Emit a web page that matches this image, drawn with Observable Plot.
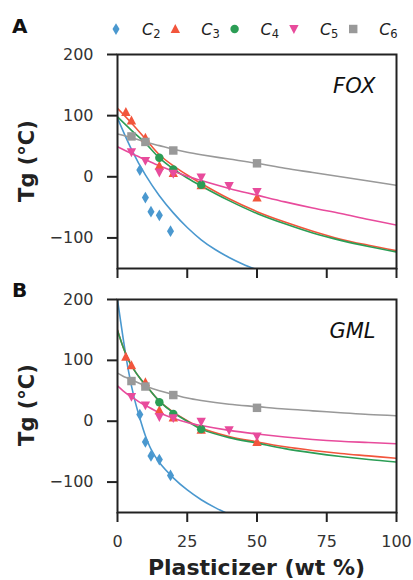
<!DOCTYPE html>
<html>
<head>
<meta charset="utf-8">
<script src="https://cdn.jsdelivr.net/npm/d3@7"></script>
<script src="https://cdn.jsdelivr.net/npm/@observablehq/plot@0.6"></script>
<style>
  html, body { margin: 0; padding: 0; background: #fff; }
  #root { position: relative; width: 413px; height: 580px; font-family: "DejaVu Sans", sans-serif; overflow: hidden; }
  #root > .panel { position: absolute; left: 0; }
  #overlay { position: absolute; left: 0; top: 0; pointer-events: none; }
</style>
</head>
<body>
<div id="root"></div>
<script>
// ---------- data ----------
const seriesNames = ["C2", "C3", "C4", "C5", "C6"];
const seriesColors = ["#4a98cf", "#f2553c", "#2b9d55", "#e84b9c", "#999999"];
const modelNames = ["FOX", "GML"];

// experimental points (wt %, Tg °C)
const c2X = [8, 10, 12, 15, 19];
const c2Tg = [11, -34, -57, -63, -89];
const c3X = [3, 5, 10, 15, 20, 30, 50];
const c3Tg = [106, 92, 64, 18, 6, -14, -34];
const c4X = [15, 20, 30];
const c4Tg = [31, 12, -13];
const c5X = [5, 10, 15, 20, 30, 40, 50];
const c5Tg = [40, 26, 7, 5, -1, -15, -25];
const c6X = [5, 10, 20, 50];
const c6Tg = [66, 57, 43, 22];

// FOX fitted curves
const foxX = [0, 5, 10, 15, 20, 25, 30, 40, 50, 60, 70, 80, 90, 100];
const foxC2X = [0, 5, 10, 15, 20, 25, 30, 35, 40, 45, 50];
const foxC2 = [96, 45, 3, -31, -59, -83, -103, -119, -132, -143, -152];
const foxC3 = [112, 88, 62, 36, 18, 3, -11, -36, -57, -74, -89, -102, -112, -121];
const foxC4 = [98, 76, 55, 31, 13, -2, -15, -39, -60, -77, -92, -104, -114, -123];
const foxC5 = [49, 38, 28, 18, 9, 1, -6, -19, -30, -41, -51, -60, -70, -79];
const foxC6 = [70, 64, 57, 51, 45, 40, 36, 29, 22, 14, 7, 0, -7, -14];

// GML fitted curves
const gmlX = [0, 2, 4, 6, 8, 10, 15, 20, 25, 30, 40, 50, 60, 70, 80, 90, 100];
const gmlC2X = [0, 2, 4, 6, 8, 10, 12, 15, 20, 25, 30, 35, 40];
const gmlC2 = [200, 137, 81, 38, 5, -24, -46, -68, -93, -113, -129, -142, -153];
const gmlC3 = [150, 122, 100, 84, 71, 60, 33, 15, 1, -11, -25, -34, -42, -48, -53, -57, -61];
const gmlC4 = [149, 122, 100, 84, 71, 60, 33, 14, 0, -13, -27, -36, -45, -52, -58, -63, -67];
const gmlC5 = [58, 50, 43, 37, 31, 26, 14, 5, -2, -7, -15, -21, -26, -30, -33, -35, -37];
const gmlC6 = [79, 74, 70, 66, 62, 58, 50, 44, 38, 34, 28, 24, 20, 17, 14, 11, 9];

const xTicks = [0, 25, 50, 75, 100];
const yTicks = [-100, 0, 100, 200];

// ---------- helpers ----------
const zip = (xs, ys) => xs.map((x, i) => ({x, y: ys[i]}));
const rOf = size => Math.sqrt(size / Math.PI);
const symbols = [
  {draw(c, s) { const r = rOf(s); c.moveTo(0, -1.25 * r); c.lineTo(0.75 * r, 0); c.lineTo(0, 1.25 * r); c.lineTo(-0.75 * r, 0); c.closePath(); }},
  {draw(c, s) { const r = rOf(s); c.moveTo(0, -1.05 * r); c.lineTo(r, 0.85 * r); c.lineTo(-r, 0.85 * r); c.closePath(); }},
  {draw(c, s) { const r = rOf(s) * 0.9; c.moveTo(r, 0); c.arc(0, 0, r, 0, 2 * Math.PI); c.closePath(); }},
  {draw(c, s) { const r = rOf(s); c.moveTo(0, 1.05 * r); c.lineTo(r, -0.85 * r); c.lineTo(-r, -0.85 * r); c.closePath(); }},
  {draw(c, s) { const r = rOf(s) * 0.9; c.rect(-r, -r, 2 * r, 2 * r); }}
];
const points = [zip(c2X, c2Tg), zip(c3X, c3Tg), zip(c4X, c4Tg), zip(c5X, c5Tg), zip(c6X, c6Tg)];
const foxCurves = [zip(foxC2X, foxC2), zip(foxX, foxC3), zip(foxX, foxC4), zip(foxX, foxC5), zip(foxX, foxC6)];
const gmlCurves = [zip(gmlC2X, gmlC2), zip(gmlX, gmlC3), zip(gmlX, gmlC4), zip(gmlX, gmlC5), zip(gmlX, gmlC6)];
const fmt = d3.format("d");

function panel(curves, model, showXLabels, height, marginBottom) {
  return Plot.plot({
    width: 413, height, marginTop: 14, marginBottom, marginLeft: 117, marginRight: 17,
    x: {domain: [0, 100]},
    y: {domain: [-150, 200]},
    style: {fontFamily: "DejaVu Sans", fontSize: "16px", color: "#333", background: "transparent", overflow: "visible"},
    marks: [
      ...curves.map((c, i) => Plot.line(c, {x: "x", y: "y", stroke: seriesColors[i], strokeWidth: 1.6, curve: "catmull-rom", clip: true})),
      ...points.map((p, i) => Plot.dot(p, {x: "x", y: "y", symbol: symbols[i], r: 4.7, fill: seriesColors[i], stroke: "none"})),
      Plot.axisY({ticks: yTicks, tickSize: 10, tickPadding: 14, tickFormat: fmt, strokeWidth: 2, stroke: "#222", label: null, fontSize: 16}),
      Plot.axisX({ticks: xTicks, tickSize: 10, tickPadding: 13, tickFormat: showXLabels ? fmt : () => "", strokeWidth: 2, stroke: "#222", label: null, fontSize: 16}),
      Plot.frame({stroke: "#222", strokeWidth: 2}),
      Plot.text([model], {frameAnchor: "top-right", dx: -21, dy: 24, text: d => d, fontStyle: "italic", fontSize: 21, textAnchor: "end", fill: "#111"})
    ]
  });
}

const root = document.getElementById("root");
const pA = panel(foxCurves, modelNames[0], false, 240, 12);
pA.classList.add("panel"); pA.style.top = "40px";
root.appendChild(pA);
const pB = panel(gmlCurves, modelNames[1], true, 295, 68);
pB.classList.add("panel"); pB.style.top = "285px";
root.appendChild(pB);

// ---------- overlay: panel letters, axis titles, legend ----------
const svg = d3.select(root).append("svg").attr("id", "overlay").attr("width", 413).attr("height", 580)
  .style("font-family", "DejaVu Sans");
svg.append("text").attr("x", 12).attr("y", 33).attr("font-weight", "bold").attr("font-size", 20).attr("fill", "#111").text("A");
svg.append("text").attr("x", 12).attr("y", 297).attr("font-weight", "bold").attr("font-size", 20).attr("fill", "#111").text("B");
[161, 405].forEach(cy => {
  svg.append("text").attr("transform", `translate(34,${cy}) rotate(-90)`).attr("text-anchor", "middle")
    .attr("font-weight", "bold").attr("font-size", 21).attr("fill", "#222").text("Tg (°C)");
});
svg.append("text").attr("x", 256.5).attr("y", 575).attr("text-anchor", "middle")
  .attr("font-weight", "bold").attr("font-size", 22).attr("fill", "#222").text("Plasticizer (wt %)");

seriesNames.forEach((name, i) => {
  const mx = 116 + i * 59.3;
  svg.append("path").attr("transform", `translate(${mx},29)`)
    .attr("d", d3.symbol(symbols[i], Math.PI * 4.7 * 4.7)()).attr("fill", seriesColors[i]);
  const t = svg.append("text").attr("x", mx + 26).attr("y", 35).attr("font-size", 16).attr("fill", "#222");
  t.append("tspan").attr("font-style", "italic").text(name[0]);
  t.append("tspan").attr("font-size", 11.5).attr("dy", 3).text(name.slice(1));
});
</script>
</body>
</html>
